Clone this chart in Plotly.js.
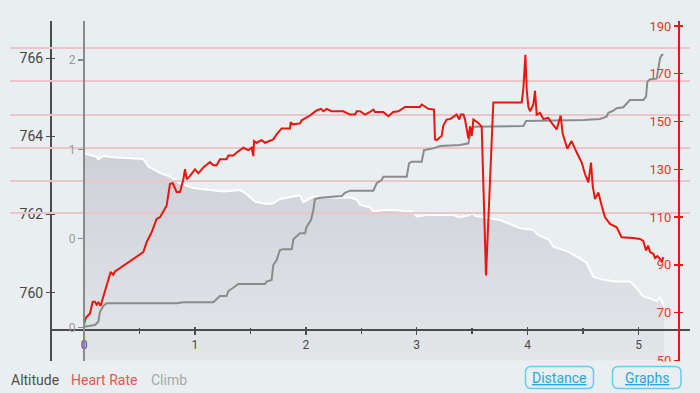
<!DOCTYPE html>
<html>
<head>
<meta charset="utf-8">
<script src="https://cdn.plot.ly/plotly-3.0.1.min.js"></script>
<style>
html,body{margin:0;padding:0;background:#e9eef1;overflow:hidden;}
#chart{width:700px;height:393px;}
</style>
</head>
<body>
<div id="chart"></div>
<script>
// ---------- data (distance in km) ----------
const distAlt = [0.0, 0.114, 0.129, 0.174, 0.264, 0.535, 0.580, 0.685, 0.775, 0.866, 0.986, 1.166, 1.256, 1.407, 1.452, 1.542, 1.647, 1.707, 1.767, 1.888, 1.948, 1.978, 2.068, 2.249, 2.399, 2.459, 2.489, 2.579, 2.609, 2.699, 2.820, 2.910, 2.955, 3.000, 3.090, 3.330, 3.390, 3.481, 3.496, 3.526, 3.631, 3.751, 3.841, 3.931, 4.051, 4.096, 4.186, 4.232, 4.352, 4.472, 4.532, 4.592, 4.683, 4.803, 4.923, 4.983, 5.043, 5.104, 5.164, 5.194, 5.230];
const altitude = [763.57, 763.48, 763.42, 763.50, 763.47, 763.42, 763.23, 763.07, 762.97, 762.80, 762.68, 762.61, 762.59, 762.63, 762.55, 762.33, 762.27, 762.29, 762.40, 762.46, 762.49, 762.32, 762.46, 762.43, 762.44, 762.38, 762.25, 762.19, 762.08, 762.12, 762.12, 762.07, 762.10, 761.95, 761.99, 761.99, 761.93, 761.99, 762.05, 761.97, 761.91, 761.86, 761.76, 761.65, 761.61, 761.48, 761.37, 761.18, 761.07, 760.88, 760.76, 760.41, 760.33, 760.29, 760.29, 760.12, 759.90, 759.86, 759.78, 759.88, 759.65];

const distClimb = [0.0, 0.099, 0.129, 0.144, 0.174, 0.204, 0.835, 0.896, 1.166, 1.196, 1.226, 1.286, 1.301, 1.346, 1.391, 1.632, 1.647, 1.692, 1.707, 1.737, 1.767, 1.797, 1.873, 1.888, 1.918, 1.948, 1.993, 2.008, 2.047, 2.068, 2.083, 2.128, 2.324, 2.353, 2.399, 2.609, 2.639, 2.684, 2.699, 2.910, 2.931, 2.955, 3.045, 3.066, 3.150, 3.210, 3.390, 3.466, 3.481, 3.511, 3.962, 3.986, 4.503, 4.653, 4.713, 4.728, 4.773, 4.803, 4.863, 4.893, 4.923, 5.043, 5.068, 5.080, 5.104, 5.164, 5.179, 5.194, 5.209, 5.224];
const climb = [0.01, 0.03, 0.067, 0.179, 0.243, 0.274, 0.274, 0.285, 0.285, 0.318, 0.355, 0.355, 0.411, 0.448, 0.490, 0.490, 0.516, 0.535, 0.703, 0.759, 0.871, 0.879, 0.879, 0.991, 1.020, 1.058, 1.058, 1.132, 1.207, 1.320, 1.443, 1.457, 1.476, 1.513, 1.536, 1.536, 1.619, 1.656, 1.693, 1.693, 1.843, 1.861, 1.861, 1.992, 2.011, 2.037, 2.048, 2.067, 2.160, 2.253, 2.261, 2.317, 2.329, 2.340, 2.365, 2.410, 2.433, 2.460, 2.471, 2.516, 2.553, 2.553, 2.590, 2.758, 2.785, 2.792, 2.926, 3.020, 3.057, 3.065];
const climbTickVals = [0, 1, 2, 3];
const climbTickText = ['0', '0', '1', '2'];

const distHR = [0.0, 0.009, 0.024, 0.054, 0.078, 0.099, 0.114, 0.129, 0.150, 0.174,
  0.198, 0.219, 0.240, 0.264, 0.280, 0.535, 0.550, 0.565, 0.610, 0.655,
  0.685, 0.730, 0.745, 0.775, 0.800, 0.835, 0.866, 0.896, 0.911, 0.926,
  0.956, 1.001, 1.031, 1.076, 1.136, 1.166, 1.196, 1.226, 1.286, 1.301,
  1.346, 1.377, 1.437, 1.482, 1.512, 1.527, 1.533, 1.557, 1.602, 1.632,
  1.707, 1.737, 1.782, 1.858, 1.864, 1.882, 1.948, 1.963, 2.008, 2.038,
  2.068, 2.098, 2.137, 2.158, 2.188, 2.233, 2.338, 2.399, 2.444, 2.459,
  2.489, 2.534, 2.579, 2.609, 2.624, 2.699, 2.744, 2.789, 2.834, 2.895,
  3.030, 3.045, 3.060, 3.105, 3.156, 3.165, 3.180, 3.225, 3.240, 3.270,
  3.300, 3.361, 3.384, 3.397, 3.421, 3.436, 3.466, 3.481, 3.496, 3.511,
  3.556, 3.586, 3.625, 3.691, 3.947, 3.962, 3.980, 3.992, 4.007, 4.022,
  4.052, 4.067, 4.082, 4.112, 4.142, 4.187, 4.217, 4.262, 4.298, 4.316,
  4.358, 4.397, 4.443, 4.488, 4.518, 4.548, 4.572, 4.587, 4.608, 4.638,
  4.668, 4.698, 4.743, 4.803, 4.848, 4.893, 4.953, 5.013, 5.043, 5.068,
  5.088, 5.104, 5.134, 5.149, 5.170, 5.194, 5.209, 5.224];
const heartRate = [64.7, 66.8, 68.2, 69.6, 74.5, 74.5, 73.3, 74.2, 72.8, 76.5,
  80.3, 83.5, 87.0, 85.8, 87.2, 95.3, 98.0, 99.5, 103.6, 109.2,
  109.9, 114.0, 114.7, 123.8, 124.2, 120.5, 120.5, 125.8, 130.0, 125.8,
  127.2, 130.0, 128.3, 130.7, 133.0, 131.7, 131.7, 134.2, 134.2, 135.8,
  135.8, 137.0, 139.0, 138.0, 139.0, 135.5, 141.8, 141.1, 142.2, 141.1,
  142.5, 144.6, 147.1, 147.1, 149.7, 148.8, 149.2, 150.5, 151.5, 152.5,
  153.6, 154.6, 155.3, 154.3, 155.3, 154.3, 154.3, 152.9, 152.9, 154.3,
  154.3, 152.9, 154.0, 155.0, 154.0, 154.0, 152.2, 154.0, 154.3, 156.1,
  156.1, 157.1, 156.7, 155.3, 155.0, 142.5, 142.2, 143.9, 148.3, 150.8,
  151.0, 152.9, 150.8, 152.9, 152.9, 150.8, 142.8, 148.0, 143.9, 150.8,
  149.4, 147.8, 85.5, 158.0, 158.0, 164.0, 177.9, 163.3, 156.1, 154.3,
  157.1, 162.9, 152.9, 153.6, 151.1, 151.5, 149.4, 146.7, 152.5, 145.0,
  138.6, 141.8, 137.0, 132.8, 127.9, 124.5, 132.8, 123.0, 117.5, 120.3,
  114.7, 109.9, 107.1, 105.7, 101.5, 101.5, 101.2, 100.8, 100.0, 96.0,
  98.0, 95.3, 94.6, 92.8, 93.6, 92.5, 91.1, 93.2];

const legendLabels = ['Altitude', 'Heart Rate', 'Climb'];
const buttonLabels = ['Distance', 'Graphs'];

// ---------- geometry helpers (pixels -> paper) ----------
const W = 700, H = 393;
const PX = v => v / W;
const PY = v => 1 - v / H;
const BG = '#e9eef1';
const FONT = 'Roboto, "Noto Sans", sans-serif';
const plotTop = 21, plotBot = 360.5;
const yDomain = [PY(plotBot), PY(plotTop)];
const gridPx = [48, 81, 115, 148, 181, 213];

function roundRect(x0, y0, x1, y1, r) {
  const X = v => PX(v).toFixed(5), Y = v => PY(v).toFixed(5);
  return `M${X(x0 + r)},${Y(y0)} L${X(x1 - r)},${Y(y0)} Q${X(x1)},${Y(y0)} ${X(x1)},${Y(y0 + r)} ` +
    `L${X(x1)},${Y(y1 - r)} Q${X(x1)},${Y(y1)} ${X(x1 - r)},${Y(y1)} L${X(x0 + r)},${Y(y1)} ` +
    `Q${X(x0)},${Y(y1)} ${X(x0)},${Y(y1 - r)} L${X(x0)},${Y(y0 + r)} Q${X(x0)},${Y(y0)} ${X(x0 + r)},${Y(y0)} Z`;
}

// x scale: 0 at px 84, 110.9 px per km
const x0px = 84, xk = 110.9;
const xr = (a, b) => [(a - x0px) / xk, (b - x0px) / xk];
const altRange = [758.266, 766.954];
const climbRange = [-0.3677, 3.4383];
const hrRange = [49.9, 192.09];

const empty = (xa, ya) => ({x: [], y: [], xaxis: xa, yaxis: ya, type: 'scatter', mode: 'lines',
  hoverinfo: 'skip', showlegend: false});

// ---------- traces ----------
const traces = [
  {
    x: distAlt, y: altitude, xaxis: 'x', yaxis: 'y',
    type: 'scatter', mode: 'lines', fill: 'tozeroy',
    line: {color: '#ffffff', width: 2},
    fillgradient: {type: 'vertical', start: 758.27, stop: 763.6,
      colorscale: [[0, '#e3e6e9'], [1, '#cdd0d6']]},
    hoverinfo: 'skip', showlegend: false
  },
  empty('x3', 'y'),
  empty('x', 'y5'),
  empty('x2', 'y4'),
  empty('x2', 'y6'),
  {
    x: distClimb, y: climb, xaxis: 'x2', yaxis: 'y2',
    type: 'scatter', mode: 'lines',
    line: {color: '#8b8b8b', width: 2},
    hoverinfo: 'skip', showlegend: false
  },
  {
    x: distHR, y: heartRate, xaxis: 'x2', yaxis: 'y3',
    type: 'scatter', mode: 'lines',
    line: {color: '#e8160e', width: 2},
    hoverinfo: 'skip', showlegend: false
  }
];

const DARK = '#4c4c4c';
const layout = {
  width: W, height: H,
  margin: {l: 0, r: 0, t: 0, b: 0, pad: 0},
  paper_bgcolor: BG, plot_bgcolor: 'rgba(0,0,0,0)',
  font: {family: FONT, size: 13, color: '#4a4a4a'},
  showlegend: false, hovermode: false,
  // distance axis
  xaxis: {
    domain: [PX(52), PX(690)], range: xr(52, 690),
    anchor: 'free', position: PY(330),
    showline: true, linecolor: DARK, linewidth: 2,
    ticks: 'outside', ticklen: 3.5, tickwidth: 1.5, tickcolor: DARK,
    tick0: 0, dtick: 1,
    minor: {dtick: 0.5, ticks: 'outside', ticklen: 2.5, tickwidth: 1.5, tickcolor: DARK},
    tickfont: {size: 12, color: '#4a4a4a', family: FONT},
    showgrid: false, zeroline: false, fixedrange: true
  },
  // inner half of the crossing distance ticks
  xaxis3: {
    overlaying: 'x', range: xr(52, 690), anchor: 'free', position: PY(330), side: 'bottom',
    showline: false, showticklabels: false,
    ticks: 'inside', ticklen: 3.5, tickwidth: 1.5, tickcolor: DARK, tick0: 0, dtick: 1,
    minor: {dtick: 0.5, ticks: 'inside', ticklen: 2.5, tickwidth: 1.5, tickcolor: DARK},
    showgrid: false, zeroline: false, fixedrange: true
  },
  // altitude axis
  yaxis: {
    domain: yDomain, range: altRange, anchor: 'x', side: 'left',
    showline: true, linecolor: DARK, linewidth: 2,
    ticks: 'outside', ticklen: 4, tickwidth: 1.5, tickcolor: DARK,
    tick0: 760, dtick: 2,
    tickfont: {size: 14, color: '#454545', family: FONT},
    showgrid: false, zeroline: false, fixedrange: true
  },
  yaxis5: {
    overlaying: 'y', range: altRange, anchor: 'x', side: 'left',
    showline: false, showticklabels: false,
    ticks: 'inside', ticklen: 3, tickwidth: 1.5, tickcolor: DARK, tick0: 760, dtick: 2,
    showgrid: false, zeroline: false, fixedrange: true
  },
  xaxis2: {
    domain: [PX(10), PX(690)], range: xr(10, 690), anchor: 'y2',
    visible: false, showgrid: false, zeroline: false, fixedrange: true
  },
  // climb axis
  yaxis2: {
    domain: yDomain, range: climbRange, anchor: 'free', position: PX(84), side: 'left',
    showline: true, linecolor: '#8a8a8a', linewidth: 2,
    ticks: 'outside', ticklen: 5, tickwidth: 1.5, tickcolor: '#8a8a8a',
    tickvals: climbTickVals, ticktext: climbTickText,
    tickfont: {size: 12, color: '#9b9b9b', family: FONT},
    showgrid: false, zeroline: false, fixedrange: true
  },
  // heart rate axis
  yaxis3: {
    overlaying: 'y2', range: hrRange, anchor: 'free', position: PX(679), side: 'left',
    showline: true, linecolor: '#e8170f', linewidth: 2,
    ticks: 'outside', ticklen: 4, tickwidth: 1.5, tickcolor: '#e8170f',
    tick0: 50, dtick: 20,
    tickfont: {size: 13, color: '#e8372c', family: FONT},
    showgrid: false, zeroline: false, fixedrange: true
  },
  yaxis6: {
    overlaying: 'y2', range: hrRange, anchor: 'free', position: PX(679), side: 'left',
    showline: false, showticklabels: false,
    ticks: 'inside', ticklen: 3, tickwidth: 1.5, tickcolor: '#e8170f', tick0: 50, dtick: 20,
    showgrid: false, zeroline: false, fixedrange: true
  },
  // horizontal guide lines
  yaxis4: {
    overlaying: 'y2', anchor: 'x2', side: 'left', range: [plotBot, plotTop],
    tickvals: gridPx, showticklabels: false, ticks: '',
    showgrid: true, gridcolor: '#ebc5c9', gridwidth: 1.6,
    showline: false, zeroline: false, fixedrange: true
  },
  shapes: [
    {type: 'rect', xref: 'paper', yref: 'paper', x0: 0, x1: 1, y0: 0, y1: PY(361.5),
      fillcolor: BG, line: {width: 0}, layer: 'above'},
    {type: 'path', xref: 'paper', yref: 'paper', path: roundRect(525.5, 366.5, 593.5, 388.5, 6),
      line: {color: '#63cdf3', width: 1.5}, fillcolor: 'rgba(0,0,0,0)', layer: 'above'},
    {type: 'path', xref: 'paper', yref: 'paper', path: roundRect(612.5, 366.5, 681, 388.5, 6),
      line: {color: '#63cdf3', width: 1.5}, fillcolor: 'rgba(0,0,0,0)', layer: 'above'}
  ],
  annotations: [
    {text: legendLabels[0], xref: 'paper', yref: 'paper', x: PX(9), y: PY(380), xanchor: 'left', yanchor: 'middle',
      showarrow: false, font: {size: 14, color: '#4f4f4f', family: FONT}},
    {text: legendLabels[1], xref: 'paper', yref: 'paper', x: PX(69), y: PY(380), xanchor: 'left', yanchor: 'middle',
      showarrow: false, font: {size: 14, color: '#ef5350', family: FONT}},
    {text: legendLabels[2], xref: 'paper', yref: 'paper', x: PX(149), y: PY(380), xanchor: 'left', yanchor: 'middle',
      showarrow: false, font: {size: 14, color: '#a9a9a9', family: FONT}},
    {text: '<u>' + buttonLabels[0] + '</u>', xref: 'paper', yref: 'paper', x: PX(559.5), y: PY(377.5), xanchor: 'center', yanchor: 'middle',
      showarrow: false, font: {size: 14, color: '#2aa7df', family: FONT}},
    {text: '<u>' + buttonLabels[1] + '</u>', xref: 'paper', yref: 'paper', x: PX(647), y: PY(377.5), xanchor: 'center', yanchor: 'middle',
      showarrow: false, font: {size: 14, color: '#2aa7df', family: FONT}}
  ]
};

Plotly.newPlot('chart', traces, layout, {displayModeBar: false, staticPlot: true});
</script>
</body>
</html>
